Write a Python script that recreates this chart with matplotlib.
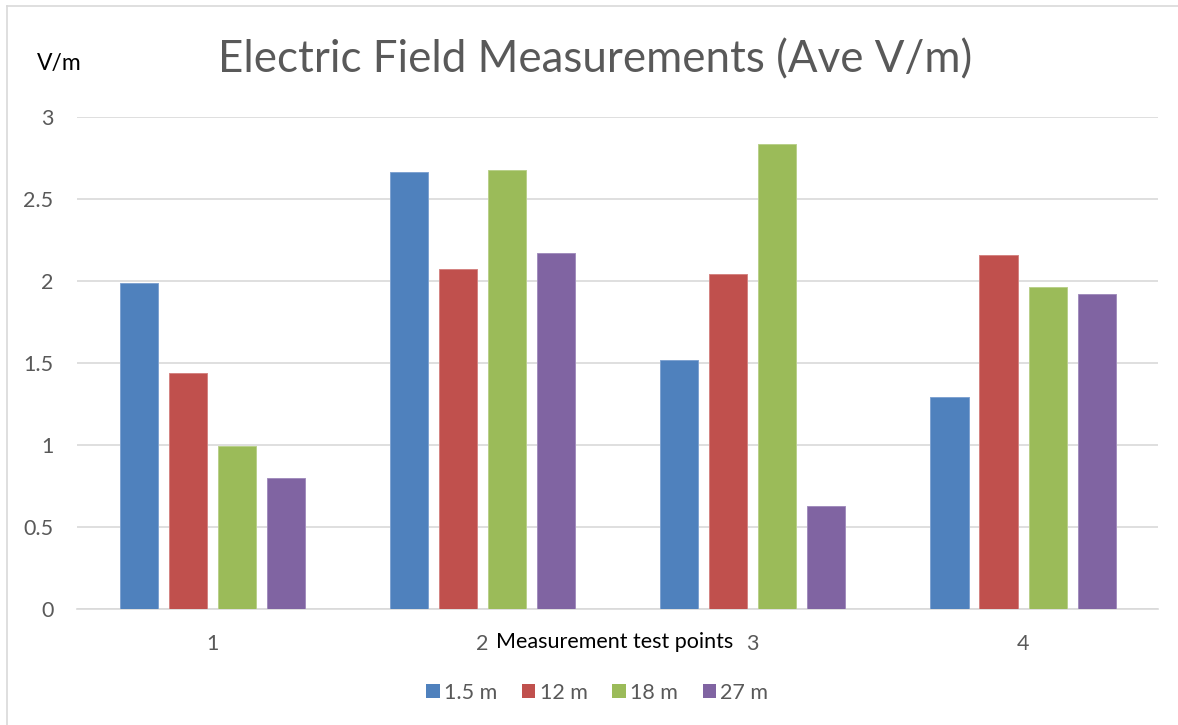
import numpy as np
import matplotlib
matplotlib.use("Agg")
import matplotlib.pyplot as plt
from matplotlib.patches import Patch
from matplotlib.lines import Line2D

# Average electric field per test point, one series per height
test_points = ["1", "2", "3", "4"]
series_names = ["1.5 m", "12 m", "18 m", "27 m"]
h_1_5m = [1.99, 2.665, 1.52, 1.29]
h_12m = [1.437, 2.072, 2.043, 2.16]
h_18m = [0.994, 2.674, 2.837, 1.963]
h_27m = [0.797, 2.171, 0.626, 1.922]
y_ticks = [0, 0.5, 1, 1.5, 2, 2.5, 3]

colors = ["#4F81BD", "#C0504D", "#9BBB59", "#8064A2"]
edges = ["#7FA3D1", "#D48381", "#B9D08B", "#A28DBD"]
text_gray = "#595959"
grid_gray = "#D9D9D9"
small = 15.5

plt.rcParams["font.family"] = ["Lato", "DejaVu Sans"]

fig = plt.figure(figsize=(11.78, 7.25), dpi=100)
ax = fig.add_axes([0.0654, 0.16, 0.9178, 0.6786])

x = np.arange(len(test_points))
pitch = 0.1815
width = 0.141
all_series = [h_1_5m, h_12m, h_18m, h_27m]
for i, vals in enumerate(all_series):
    ax.bar(x + (i - 1.5) * pitch, vals, width, color=colors[i],
           edgecolor=edges[i], linewidth=0.7, zorder=3, label=series_names[i])

ax.set_xlim(-0.5, 3.5)
ax.set_ylim(0, 3)
ax.set_yticks(y_ticks)
ax.set_yticklabels([f"{t:g}" for t in y_ticks])
ax.set_xticks(x)
ax.set_xticklabels(test_points)
ax.yaxis.grid(True, color=grid_gray, linewidth=1.2, zorder=0)
ax.set_axisbelow(True)
for side in ["top", "right", "left"]:
    ax.spines[side].set_visible(False)
ax.spines["bottom"].set_color(grid_gray)
ax.spines["bottom"].set_linewidth(1.2)
ax.tick_params(axis="both", length=0, labelsize=small, labelcolor=text_gray)
ax.tick_params(axis="y", pad=17)
ax.tick_params(axis="x", pad=18)

ax.set_xlabel("Measurement test points", fontsize=small, color="black")
ax.xaxis.set_label_coords(0.497, -0.067)
ax.xaxis.label.set_verticalalignment("center")

fig.text(0.5055, 0.918, "Electric Field Measurements (Ave V/m)", ha="center",
         va="center", fontsize=31.6, color=text_gray)
fig.text(0.0505, 0.912, "V/m", ha="center", va="center", fontsize=16.5, color="black")

handles = [Patch(facecolor=c, edgecolor="none") for c in colors]
fig.legend(handles, series_names, loc="center", bbox_to_anchor=(0.507, 1 - 693 / 725),
           ncol=4, frameon=False, fontsize=small, handlelength=0.62, handleheight=0.62,
           handletextpad=0.2, columnspacing=1.15, labelcolor=text_gray)

# thin chart-area border along the top and left edges
fig.add_artist(Line2D([7 / 1178, 1], [1 - 6 / 725, 1 - 6 / 725], color=grid_gray,
                      linewidth=1.2, transform=fig.transFigure))
fig.add_artist(Line2D([7 / 1178, 7 / 1178], [0, 1 - 6 / 725], color=grid_gray,
                      linewidth=1.2, transform=fig.transFigure))

fig.savefig("out.png", dpi=100, facecolor="white")
